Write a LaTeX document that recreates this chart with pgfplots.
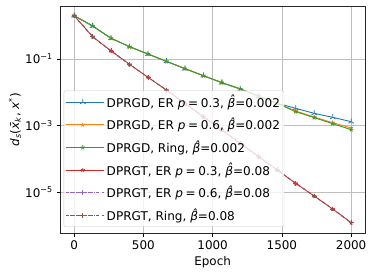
\documentclass[border=0pt]{standalone}
\usepackage{fontspec}
\setmainfont{DejaVu Sans}
\usepackage{pgfplots}
\pgfplotsset{compat=1.18}
\definecolor{c0}{HTML}{1F77B4}
\definecolor{c1}{HTML}{FF7F0E}
\definecolor{c2}{HTML}{2CA02C}
\definecolor{c3}{HTML}{D62728}
\definecolor{c4}{HTML}{9467BD}
\definecolor{c5}{HTML}{8C564B}
\newcommand{\bh}{\textit{\rlap{\hspace{0.1em}\raisebox{0.2em}{ˆ}}β}}
\newcommand{\pp}{\textit{p}\hspace{0.22em}=\hspace{0.22em}}
\begin{document}
\fontsize{12}{14}\selectfont
\begin{tikzpicture}
\path[use as bounding box] (-60.3bp,-40.7bp) rectangle (313.7bp,233.3bp);
\begin{axis}[
  at={(0,0)}, anchor=south west,
  scale only axis, width=304.7bp, height=227.3bp,
  xmin=-100, xmax=2100,
  ymode=log, ymin=5.9e-7, ymax=3.89,
  xtick={0,500,1000,1500,2000},
  ytick={1e-1,1e-3,1e-5},
  yticklabels={10\textsuperscript{−1},10\textsuperscript{−3},10\textsuperscript{−5}},
  yminorticks=false,
  xtick pos=bottom, ytick pos=left,
  tick align=outside, major tick length=3.5bp,
  tick style={black, line width=0.6pt},
  axis line style={line width=0.7pt, black!85},
  grid=major, grid style={color=black!25, line width=0.6pt},
  /pgf/number format/assume math mode=true,
  /pgf/number format/1000 sep={},
  ticklabel style={font=\fontsize{12}{14}\selectfont},
  xlabel={Epoch},
  ylabel={\textit{d}\textsubscript{\textit{s}}(\textit{\rlap{\hspace{0.06em}¯}x}\textsubscript{\textit{k}}, \textit{x}\textsuperscript{*})},
  xlabel style={at={(axis description cs:0.5,-0.085)}, anchor=north},
  ylabel style={at={(axis description cs:-0.149,0.5)}, anchor=center},
  legend cell align=left,
  legend style={at={(axis description cs:0.011,0.028)}, anchor=south west,
    draw=black!20, fill=white, fill opacity=0.8, text opacity=1,
    rounded corners=2pt, font=\fontsize{12.1}{14}\selectfont,
    row sep=4.8bp, inner xsep=2bp, inner ysep=2.5bp},
  legend image code/.code={\path (-1bp,0bp) -- (37bp,0bp);\draw[mark repeat=2,mark phase=2] plot coordinates {(3bp,0bp)(15.5bp,0bp)(28bp,0bp)};},
  every axis plot/.append style={line width=0.9pt},
]
% DPRGD ER p=0.3
\addplot[c0, mark=Mercedes star, mark size=3.2pt, mark options={solid, line width=0.8pt}] coordinates {
(0,1.995)(133.33,0.977)(266.67,0.417)(400,0.234)(533.33,0.141)(666.67,0.0851)(800,0.0513)(933.33,0.0316)(1066.67,0.0195)(1200,0.0126)(1333.33,0.00759)(1466.67,0.00468)(1600,0.00331)(1733.33,0.00234)(1866.67,0.00178)(2000,0.00132)};
\addlegendentry{DPRGD, ER \pp0.3, \bh=0.002}
% DPRGD ER p=0.6
\addplot[c1, mark=star, mark size=2.2pt, mark options={solid, line width=0.8pt}] coordinates {
(0,1.995)(133.33,0.977)(266.67,0.417)(400,0.234)(533.33,0.141)(666.67,0.0851)(800,0.0513)(933.33,0.0316)(1066.67,0.0195)(1200,0.0126)(1333.33,0.00759)(1466.67,0.00468)(1600,0.00275)(1733.33,0.00182)(1866.67,0.00123)(2000,0.000851)};
\addlegendentry{DPRGD, ER \pp0.6, \bh=0.002}
% DPRGD Ring
\addplot[c2, mark=star, mark size=2.2pt, mark options={solid, line width=0.8pt}] coordinates {
(0,1.995)(133.33,0.977)(266.67,0.417)(400,0.234)(533.33,0.141)(666.67,0.0851)(800,0.0513)(933.33,0.0316)(1066.67,0.0195)(1200,0.0126)(1333.33,0.00759)(1466.67,0.00468)(1600,0.00263)(1733.33,0.00174)(1866.67,0.00115)(2000,0.000759)};
\addlegendentry{DPRGD, Ring, \bh=0.002}
% DPRGT ER p=0.3
\addplot[c3, mark=star, mark size=2.2pt, mark options={solid, line width=0.8pt}] coordinates {
(0,1.995)(133.33,0.468)(266.67,0.174)(400,0.0692)(533.33,0.0282)(666.67,0.0117)(800,0.00468)(933.33,0.00186)(1066.67,0.000741)(1200,0.000295)(1333.33,0.000117)(1466.67,4.68e-5)(1600,1.86e-5)(1733.33,7.76e-6)(1866.67,3.16e-6)(2000,1.23e-6)};
\addlegendentry{DPRGT, ER \pp0.3, \bh=0.08}
% DPRGT ER p=0.6
\addplot[c4, dashed, mark=+, mark size=2.5pt, mark options={solid, line width=0.8pt}] coordinates {
(0,1.995)(133.33,0.468)(266.67,0.174)(400,0.0692)(533.33,0.0282)(666.67,0.0117)(800,0.00468)(933.33,0.00186)(1066.67,0.000741)(1200,0.000295)(1333.33,0.000117)(1466.67,4.68e-5)(1600,1.86e-5)(1733.33,7.76e-6)(1866.67,3.16e-6)(2000,1.23e-6)};
\addlegendentry{DPRGT, ER \pp0.6, \bh=0.08}
% DPRGT Ring
\addplot[c5, dashed, mark=+, mark size=2.5pt, mark options={solid, line width=0.8pt}] coordinates {
(0,1.995)(133.33,0.468)(266.67,0.174)(400,0.0692)(533.33,0.0282)(666.67,0.0117)(800,0.00468)(933.33,0.00186)(1066.67,0.000741)(1200,0.000295)(1333.33,0.000117)(1466.67,4.68e-5)(1600,1.86e-5)(1733.33,7.76e-6)(1866.67,3.16e-6)(2000,1.23e-6)};
\addlegendentry{DPRGT, Ring, \bh=0.08}
\end{axis}
\end{tikzpicture}
\end{document}
